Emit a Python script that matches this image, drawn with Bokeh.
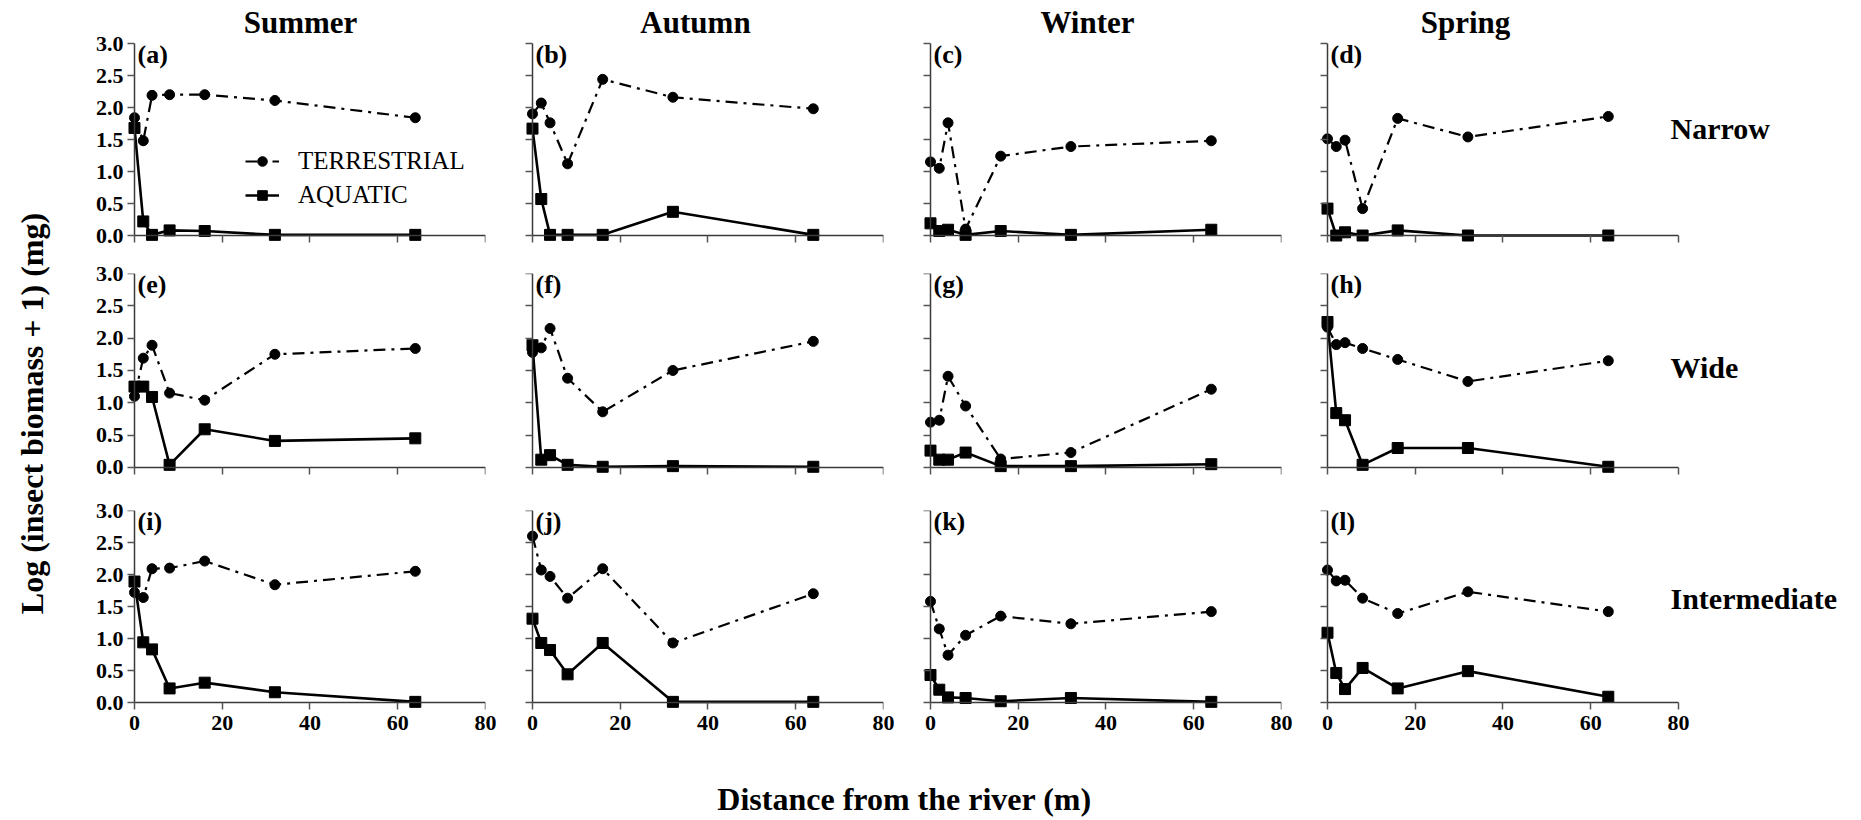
import math
from bokeh.plotting import figure
from bokeh.layouts import row, column
from bokeh.models import (Range1d, FixedTicker, Label, Legend, LegendItem,
                          PrintfTickFormatter, LinearAxis)
from bokeh.embed import file_html
from bokeh.resources import INLINE

# ---------------- data ----------------
distance = [0, 2, 4, 8, 16, 32, 64]
seasons = ["Summer", "Autumn", "Winter", "Spring"]
river_widths = ["Narrow", "Wide", "Intermediate"]
panel_tags = ["(a)", "(b)", "(c)", "(d)", "(e)", "(f)", "(g)", "(h)", "(i)", "(j)", "(k)", "(l)"]
x_ticks = [0, 20, 40, 60, 80]
y_ticks = [0.0, 0.5, 1.0, 1.5, 2.0, 2.5, 3.0]

# Narrow
terr_a = [1.84, 1.48, 2.19, 2.20, 2.20, 2.11, 1.84]
aqua_a = [1.68, 0.22, 0.01, 0.08, 0.07, 0.01, 0.01]
terr_b = [1.90, 2.07, 1.76, 1.12, 2.44, 2.16, 1.98]
aqua_b = [1.67, 0.57, 0.01, 0.01, 0.01, 0.37, 0.01]
terr_c = [1.15, 1.05, 1.76, 0.10, 1.24, 1.39, 1.48]
aqua_c = [0.19, 0.07, 0.09, 0.01, 0.07, 0.01, 0.09]
terr_d = [1.51, 1.39, 1.49, 0.42, 1.83, 1.54, 1.86]
aqua_d = [0.42, 0.00, 0.05, 0.00, 0.08, 0.00, 0.00]
# Wide
terr_e = [1.10, 1.69, 1.89, 1.15, 1.04, 1.75, 1.84]
aqua_e = [1.25, 1.25, 1.09, 0.04, 0.59, 0.41, 0.45]
terr_f = [1.78, 1.85, 2.15, 1.38, 0.86, 1.50, 1.95]
aqua_f = [1.89, 0.12, 0.19, 0.04, 0.01, 0.02, 0.01]
terr_g = [0.70, 0.73, 1.41, 0.95, 0.13, 0.23, 1.21]
aqua_g = [0.26, 0.12, 0.12, 0.23, 0.02, 0.02, 0.05]
terr_h = [2.17, 1.90, 1.93, 1.84, 1.67, 1.33, 1.65]
aqua_h = [2.25, 0.84, 0.73, 0.04, 0.30, 0.30, 0.01]
# Intermediate
terr_i = [1.72, 1.64, 2.09, 2.10, 2.21, 1.84, 2.05]
aqua_i = [1.89, 0.94, 0.83, 0.22, 0.31, 0.16, 0.01]
terr_j = [2.60, 2.07, 1.97, 1.63, 2.09, 0.93, 1.70]
aqua_j = [1.31, 0.93, 0.82, 0.44, 0.93, 0.01, 0.01]
terr_k = [1.58, 1.15, 0.74, 1.05, 1.35, 1.23, 1.42]
aqua_k = [0.43, 0.20, 0.08, 0.07, 0.02, 0.07, 0.01]
terr_l = [2.07, 1.90, 1.91, 1.63, 1.39, 1.73, 1.42]
aqua_l = [1.09, 0.46, 0.21, 0.54, 0.22, 0.49, 0.09]

terrestrial = [[terr_a, terr_b, terr_c, terr_d],
               [terr_e, terr_f, terr_g, terr_h],
               [terr_i, terr_j, terr_k, terr_l]]
aquatic = [[aqua_a, aqua_b, aqua_c, aqua_d],
           [aqua_e, aqua_f, aqua_g, aqua_h],
           [aqua_i, aqua_j, aqua_k, aqua_l]]

# ---------------- layout constants ----------------
SERIF = "Liberation Serif"
PAGE_W, PAGE_H = 1861, 820
YT_W = 60
XPAD, YPAD = 2.05, 0.125            # room so markers at 0 are not clipped
DATA_W = 360                        # frame px covering -XPAD .. 80
PXU = DATA_W / (80 + XPAD)
LEFT = [65, 19, 19, 19]
RIGHT = [19, 19, 18, 0]
FRAME_W = [DATA_W, DATA_W, DATA_W,
           PAGE_W - YT_W - 444 - 398 - 397 - 19]   # last column reaches page edge
DATA_H = [200, 202, 200]            # frame px covering -YPAD .. 3
EXTRA_TOP = [43, 0, 0]              # room for column titles inside top frames
TOP = [0, 15, 18]
BOTTOM = [15, 17, 36]
TITLE_X = [175, 172, 166, 147]
TITLE_Y = 221.5
ROWLAB_X = 352
ROWLAB_Y = [115, 108, 112]


def style_axis(ax):
    ax.axis_line_color = "#3a3a3a"
    ax.axis_line_width = 1.5
    ax.major_tick_line_color = "#555555"
    ax.major_tick_line_width = 1.5
    ax.major_tick_out = 7
    ax.major_tick_in = 0
    ax.minor_tick_line_color = None
    ax.major_label_text_font = SERIF
    ax.major_label_text_font_style = "bold"
    ax.major_label_text_font_size = "22px"
    ax.major_label_text_color = "black"


def make_panel(r, c):
    fw = FRAME_W[c]
    fh = DATA_H[r] + EXTRA_TOP[r]
    pyu = DATA_H[r] / (3 + YPAD)
    w = LEFT[c] + fw + RIGHT[c]
    h = TOP[r] + fh + BOTTOM[r]
    x_end = round(-XPAD + fw / PXU, 4) + 1e-6
    y_end = round(3 + EXTRA_TOP[r] / pyu, 4) + 1e-6
    p = figure(width=w, height=h, output_backend="svg", toolbar_location=None,
               x_range=Range1d(-XPAD, x_end),
               y_range=Range1d(-YPAD, y_end),
               min_border_left=LEFT[c], min_border_right=RIGHT[c],
               min_border_top=TOP[r], min_border_bottom=BOTTOM[r],
               title=None, tools="")
    p.grid.visible = False
    p.outline_line_color = None
    p.background_fill_color = "white"
    p.border_fill_color = "white"

    # label-only axes at the frame edges
    for ax in (p.xaxis[0], p.yaxis[0]):
        style_axis(ax)
        ax.axis_line_color = None
        ax.major_tick_line_color = None
        ax.major_tick_out = 0
    p.xaxis.ticker = FixedTicker(ticks=x_ticks)
    p.yaxis.ticker = FixedTicker(ticks=y_ticks)
    p.yaxis.formatter = PrintfTickFormatter(format="%.1f")
    p.yaxis.major_label_standoff = 2
    p.xaxis.major_label_standoff = 5
    p.yaxis.visible = (c == 0)
    p.xaxis.visible = (r == 2)

    # axis lines and ticks crossing at (0, 0)
    fx = LinearAxis(fixed_location=0, ticker=FixedTicker(ticks=x_ticks), bounds=(0, 80),
                    major_label_overrides={t: "" for t in x_ticks})
    fy = LinearAxis(fixed_location=0, ticker=FixedTicker(ticks=y_ticks), bounds=(0, 3),
                    major_label_overrides={t: "" for t in y_ticks})
    for ax in (fx, fy):
        style_axis(ax)
        ax.major_label_text_font_size = "1px"
        ax.major_label_standoff = 0
    p.add_layout(fx, "below")
    p.add_layout(fy, "left")

    tl = p.line(distance, terrestrial[r][c], line_color="black", line_width=2.2,
                line_dash="12 6 3 6")
    ts = p.scatter(distance, terrestrial[r][c], marker="circle", size=10,
                   fill_color="black", line_color="black")
    al = p.line(distance, aquatic[r][c], line_color="black", line_width=2.6)
    asq = p.scatter(distance, aquatic[r][c], marker="square", size=11,
                    fill_color="black", line_color="black")

    p.add_layout(Label(x=12, y=DATA_H[r] + 4, x_units="screen", y_units="screen",
                       text=panel_tags[r * 4 + c], text_baseline="top", text_align="left",
                       text_font=SERIF, text_font_style="bold", text_font_size="26px",
                       text_color="black"))
    if r == 0:
        p.add_layout(Label(x=TITLE_X[c], y=TITLE_Y, x_units="screen", y_units="screen",
                           text=seasons[c], text_baseline="middle", text_align="center",
                           text_font=SERIF, text_font_style="bold", text_font_size="31px",
                           text_color="black"))
    if c == 3:
        p.add_layout(Label(x=ROWLAB_X, y=ROWLAB_Y[r], x_units="screen", y_units="screen",
                           text=river_widths[r], text_baseline="middle", text_align="left",
                           text_font=SERIF, text_font_style="bold", text_font_size="30px",
                           text_color="black"))
    if r == 0 and c == 0:
        legend = Legend(items=[LegendItem(label="TERRESTRIAL", renderers=[tl, ts]),
                               LegendItem(label="AQUATIC", renderers=[al, asq])],
                        location=(120, 34), orientation="vertical",
                        padding=0, margin=0, spacing=6,
                        glyph_width=34, glyph_height=24, label_height=24,
                        label_standoff=19,
                        label_text_font=SERIF, label_text_font_size="25px",
                        label_text_color="black",
                        background_fill_alpha=0, border_line_alpha=0)
        p.add_layout(legend)
    return p


def text_fig(w, h):
    f = figure(width=w, height=h, output_backend="svg", toolbar_location=None,
               x_range=Range1d(0, 1), y_range=Range1d(0, 1),
               x_axis_type=None, y_axis_type=None, title=None, tools="",
               min_border=0)
    f.grid.visible = False
    f.outline_line_color = None
    return f


rows = [row([make_panel(r, c) for c in range(4)], spacing=0) for r in range(3)]
grid_h = sum(TOP[r] + DATA_H[r] + EXTRA_TOP[r] + BOTTOM[r] for r in range(3))

xt_h = PAGE_H - grid_h
xt = text_fig(PAGE_W - YT_W, xt_h)
xt.add_layout(Label(x=844, y=xt_h - 52, x_units="screen", y_units="screen",
                    text="Distance from the river (m)", text_align="center",
                    text_baseline="middle", text_font=SERIF, text_font_style="bold",
                    text_font_size="32px", text_color="black"))

yt = text_fig(YT_W, PAGE_H)
yt.add_layout(Label(x=31, y=PAGE_H - 413, x_units="screen", y_units="screen",
                    text="Log (insect biomass + 1) (mg)", angle=math.pi / 2,
                    text_align="center", text_baseline="middle", text_font=SERIF,
                    text_font_style="bold", text_font_size="32px", text_color="black"))

page = row([yt, column(rows + [xt], spacing=0)], spacing=0)

open("out.html", "w").write(file_html(page, INLINE))
